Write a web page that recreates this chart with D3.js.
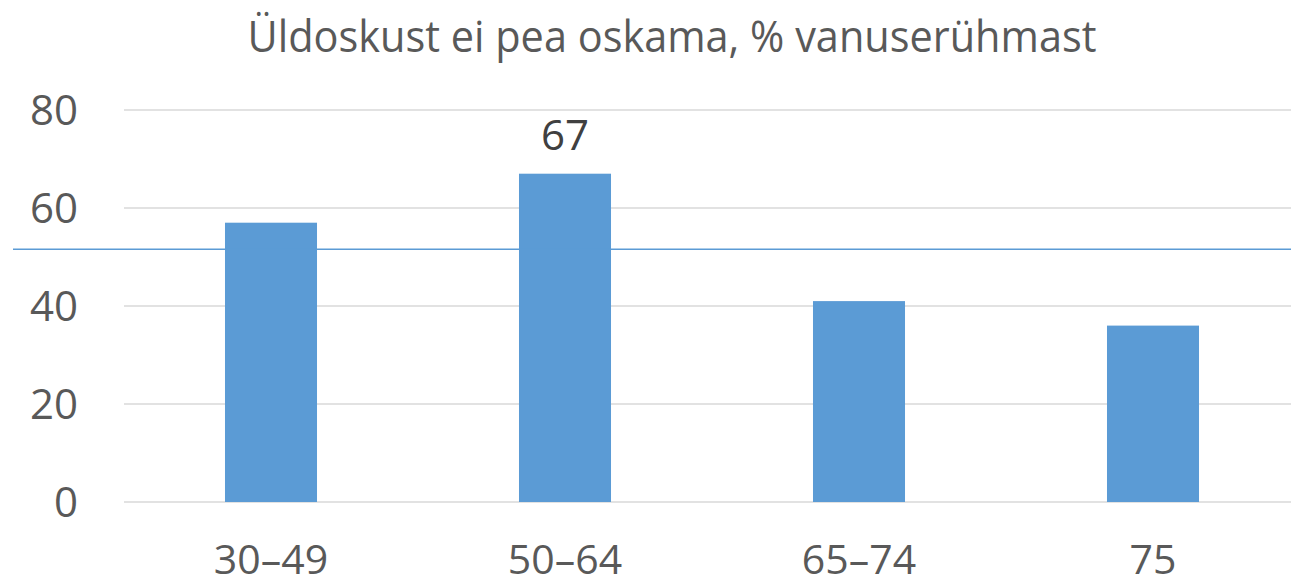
<!DOCTYPE html>
<html>
<head>
<meta charset="utf-8">
<script src="https://cdn.jsdelivr.net/npm/d3@7"></script>
<style>
  body { margin: 0; background: #fff; }
  svg { display: block; }
</style>
</head>
<body>
<div id="chart"></div>
<script>
const categories = ["30–49", "50–64", "65–74", "75"];
const values = [57, 67, 41, 36];
const refValue = 51.6;
const yTicks = [0, 20, 40, 60, 80];
const labelled = ["50–64"];   // only this bar shows its value
const title = "Üldoskust ei pea oskama, % vanuserühmast";

const width = 1291, height = 581;
const margin = {top: 110, right: -9, bottom: 79, left: 124};
const fontFamily = "'Open Sans', 'Noto Sans', sans-serif";

const svg = d3.select("#chart")
    .append("svg")
    .attr("width", width)
    .attr("height", height);

let x = d3.scaleBand()
    .domain(categories)
    .range([margin.left, width - margin.right])
    .paddingInner(0.687)
    .paddingOuter(0.3435);

let y = d3.scaleLinear()
    .domain([0, 80])
    .range([height - margin.bottom, margin.top]);

// gridlines
svg.append("g")
    .selectAll("line")
    .data(yTicks)
    .join("line")
    .attr("x1", margin.left)
    .attr("x2", width)
    .attr("y1", d => y(d))
    .attr("y2", d => y(d))
    .attr("stroke", "#d9d9d9")
    .attr("stroke-width", 1.5);

// y labels
svg.append("g")
    .selectAll("text")
    .data(yTicks)
    .join("text")
    .attr("x", 78)
    .attr("y", d => y(d))
    .attr("dy", "0.36em")
    .attr("text-anchor", "end")
    .style("font-family", fontFamily)
    .style("font-size", "42px")
    .attr("fill", "#595959")
    .text(d => d);

// bars
svg.append("g")
    .selectAll("rect")
    .data(categories)
    .join("rect")
    .attr("x", d => x(d))
    .attr("width", x.bandwidth())
    .attr("y", (d, i) => y(values[i]))
    .attr("height", (d, i) => y(0) - y(values[i]))
    .attr("fill", "#5b9bd5");

// reference line
svg.append("line")
    .attr("x1", 13)
    .attr("x2", width)
    .attr("y1", y(refValue))
    .attr("y2", y(refValue))
    .attr("stroke", "#5b9bd5")
    .attr("stroke-width", 1.5);

// value label
svg.append("g")
    .selectAll("text")
    .data(categories.filter(c => labelled.includes(c)))
    .join("text")
    .attr("x", d => x(d) + x.bandwidth() / 2)
    .attr("y", d => y(values[categories.indexOf(d)]) - 24)
    .attr("text-anchor", "middle")
    .style("font-family", fontFamily)
    .style("font-size", "42px")
    .attr("fill", "#404040")
    .text(d => values[categories.indexOf(d)]);

// x labels
svg.append("g")
    .selectAll("text")
    .data(categories)
    .join("text")
    .attr("x", d => x(d) + x.bandwidth() / 2)
    .attr("y", 574)
    .attr("text-anchor", "middle")
    .style("font-family", fontFamily)
    .style("font-size", "41px")
    .attr("fill", "#595959")
    .text(d => d);

// title
svg.append("text")
    .attr("x", 672)
    .attr("y", 52)
    .attr("text-anchor", "middle")
    .attr("textLength", 849)
    .attr("lengthAdjust", "spacingAndGlyphs")
    .style("font-family", fontFamily)
    .style("font-size", "43px")
    .attr("fill", "#595959")
    .text(title);
</script>
</body>
</html>
